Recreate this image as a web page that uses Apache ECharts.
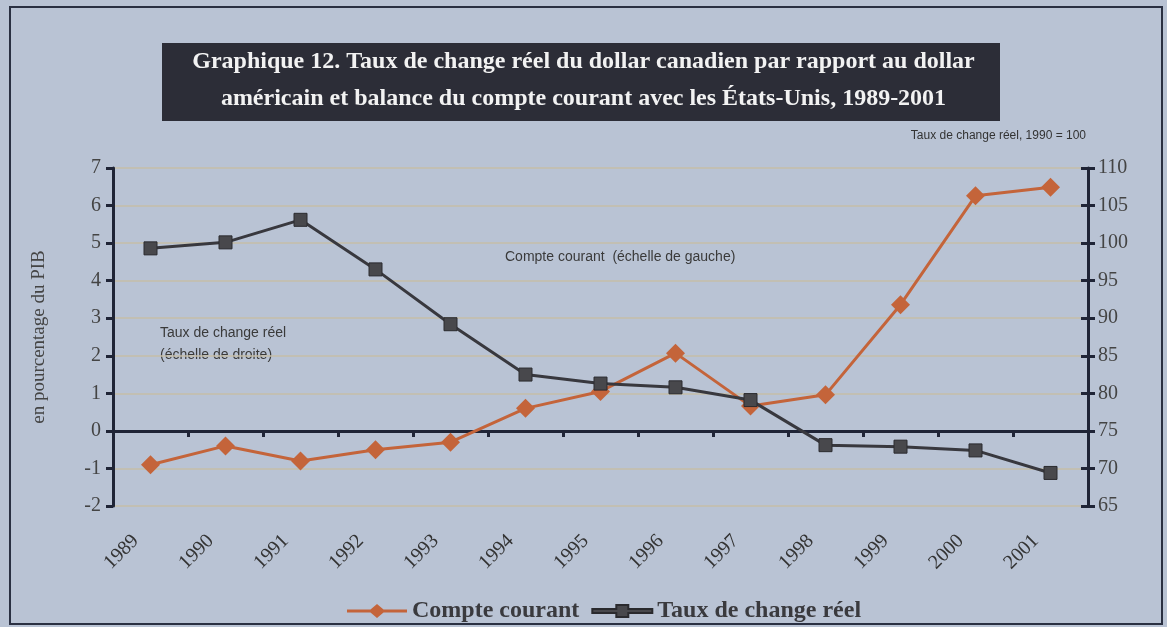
<!DOCTYPE html>
<html><head><meta charset="utf-8">
<script src="https://cdn.jsdelivr.net/npm/echarts@6/dist/echarts.min.js"></script>
<style>html,body{margin:0;padding:0;background:#b9c3d4;}#c{width:1167px;height:627px;}</style>
</head><body><div id="c"></div>
<script>
const years = ['1989','1990','1991','1992','1993','1994','1995','1996','1997','1998','1999','2000','2001'];
const compteCourant = [-0.9, -0.4, -0.8, -0.5, -0.3, 0.6, 1.05, 2.07, 0.66, 0.96, 3.36, 6.26, 6.49];
const tauxChange = [99.3, 100.1, 103.1, 96.5, 89.2, 82.5, 81.3, 80.8, 79.1, 73.1, 72.9, 72.4, 69.4];
const leftTicks = {min: -2, max: 7, interval: 1};
const rightTicks = {min: 65, max: 110, interval: 5};

const chart = echarts.init(document.getElementById('c'));
const serif = "'Liberation Serif', 'Times New Roman', serif";
const sans = "'Liberation Sans', Arial, sans-serif";
const axisCol = '#1f2436';
const gridCol = '#c6bea8';
chart.setOption({
  backgroundColor: '#b9c3d4',
  animation: false,
  grid: {left: 113, right: 79, top: 168, bottom: 121},
  graphic: [
    {type: 'rect', shape: {x: 10, y: 7, width: 1152, height: 617}, style: {fill: 'none', stroke: '#2a3042', lineWidth: 2}, silent: true},
    {type: 'rect', shape: {x: 162, y: 43, width: 838, height: 78}, style: {fill: '#2c2d37'}},
    {type: 'text', left: 'center', top: 50, style: {text: 'Graphique 12. Taux de change réel du dollar canadien par rapport au dollar', font: "bold 24px " + serif, fill: '#f2f2f2'}},
    {type: 'text', left: 'center', top: 87, style: {text: 'américain et balance du compte courant avec les États-Unis, 1989-2001', font: "bold 24px " + serif, fill: '#f2f2f2'}},
    {type: 'text', right: 1167 - 1086, top: 130, style: {text: 'Taux de change réel, 1990 = 100', font: "12px 'Liberation Sans Narrow', " + sans, fill: '#333'}},
    {type: 'text', left: 505, top: 250, style: {text: 'Compte courant  (échelle de gauche)', font: "14px " + sans, fill: '#3a3a3a'}},
    {type: 'text', left: 160, top: 322, style: {text: 'Taux de change réel\n(échelle de droite)', font: "14px " + sans, fill: '#3a3a3a', lineHeight: 22}}
  ],
  legend: {
    left: 342, top: 594,
    itemWidth: 60, itemHeight: 14, itemGap: 12,
    textStyle: {fontFamily: serif, fontWeight: 'bold', fontSize: 24, color: '#3a3a3e'},
    data: [
      {name: 'Compte courant', icon: 'path://M0,5.5 L23.5,5.5 L30,0 L36.5,5.5 L60,5.5 L60,8.5 L36.5,8.5 L30,14 L23.5,8.5 L0,8.5 Z'},
      {name: 'Taux de change réel', icon: 'path://M0,5 L24,5 L24,1 L36,1 L36,5 L60,5 L60,9 L36,9 L36,13 L24,13 L24,9 L0,9 Z'}
    ]
  },
  xAxis: [
    {type: 'category', data: years, boundaryGap: true, position: 'bottom',
     axisLine: {onZero: true, lineStyle: {color: axisCol, width: 3}},
     axisTick: {show: true, length: 6, lineStyle: {color: axisCol, width: 3}},
     axisLabel: {show: false}, splitLine: {show: false}},
    {type: 'category', data: years, boundaryGap: true, position: 'bottom',
     axisLine: {show: false}, axisTick: {show: false},
     axisLabel: {rotate: 45, margin: 17, padding: [0, 21, 0, 0], fontFamily: serif, fontSize: 20, color: '#333'}}
  ],
  yAxis: [
    {type: 'value', position: 'left', min: leftTicks.min, max: leftTicks.max, interval: leftTicks.interval,
     name: 'en pourcentage du PIB', nameLocation: 'middle', nameGap: 64, nameRotate: 90,
     nameTextStyle: {fontFamily: serif, fontSize: 19, color: '#444'},
     axisLine: {show: true, lineStyle: {color: axisCol, width: 3}},
     axisTick: {show: true, length: 7, lineStyle: {color: axisCol, width: 3}},
     axisLabel: {fontFamily: serif, fontSize: 20, color: '#444', margin: 12},
     splitLine: {show: true, lineStyle: {color: gridCol, width: 1.5}}},
    {type: 'value', position: 'right', min: rightTicks.min, max: rightTicks.max, interval: rightTicks.interval,
     axisLine: {show: true, lineStyle: {color: axisCol, width: 3}},
     axisTick: {show: true, length: 7, lineStyle: {color: axisCol, width: 3}},
     axisLabel: {fontFamily: serif, fontSize: 20, color: '#444', margin: 10},
     splitLine: {show: false}},
    {type: 'value', position: 'right', min: rightTicks.min, max: rightTicks.max, interval: rightTicks.interval,
     axisLine: {show: false},
     axisTick: {show: true, inside: true, length: 7, lineStyle: {color: axisCol, width: 3}},
     axisLabel: {show: false}, splitLine: {show: false}}
  ],
  series: [
    {name: 'Compte courant', type: 'line', xAxisIndex: 0, yAxisIndex: 0, data: compteCourant,
     symbol: 'diamond', symbolSize: 19,
     lineStyle: {color: '#c4643a', width: 3}, itemStyle: {color: '#c4643a'}, z: 3},
    {name: 'Taux de change réel', type: 'line', xAxisIndex: 0, yAxisIndex: 1, data: tauxChange,
     symbol: 'rect', symbolSize: 13,
     lineStyle: {color: '#38383e', width: 3}, itemStyle: {color: '#48484c', borderColor: '#2a2a2e', borderWidth: 1}, z: 4}
  ]
});
</script></body></html>
